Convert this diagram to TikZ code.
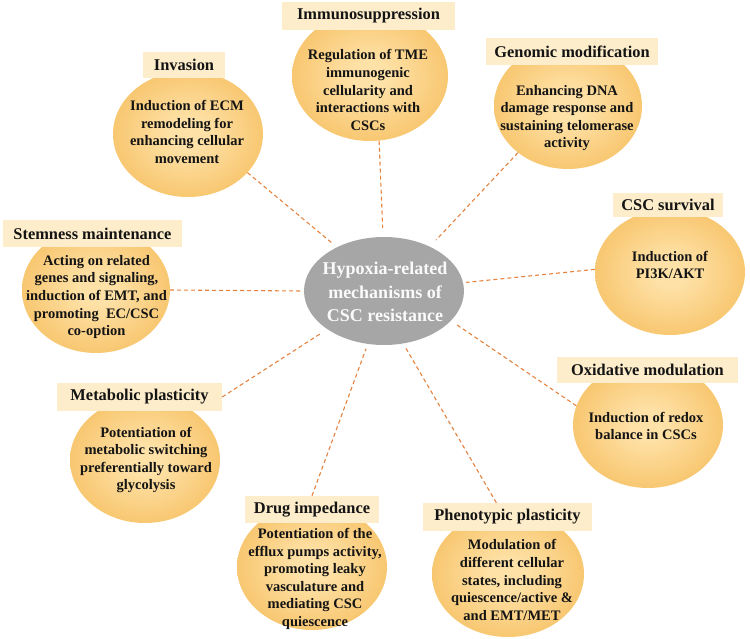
\documentclass[tikz,border=0pt]{standalone}
\usepackage{fontspec}
\setmainfont{Liberation Serif}
\usetikzlibrary{shapes.geometric}
\definecolor{orbin}{HTML}{FEE1A6}
\definecolor{orbout}{HTML}{F8C771}
\definecolor{labfill}{HTML}{FDEDCB}
\definecolor{connc}{HTML}{E5823F}
\definecolor{hubfill}{HTML}{A6A6A6}
\definecolor{txtc}{HTML}{141414}
\pgfdeclareradialshading{orb}{\pgfpoint{0bp}{0bp}}{color(0bp)=(orbin); color(6bp)=(orbin); color(25bp)=(orbout); color(50bp)=(orbout)}
\tikzset{
  orbnode/.style={ellipse, shading=orb, shade, draw=none, inner sep=0pt},
  labnode/.style={rectangle, fill=labfill, draw=none, inner sep=0pt,
    font=\fontsize{16.4}{20}\selectfont\bfseries, text=txtc},
  bodytxt/.style={align=center, inner sep=0pt, text=txtc,
    font=\fontsize{14.5}{17.6}\selectfont\bfseries},
  hubnode/.style={ellipse, fill=hubfill, draw=none, inner sep=0pt,
    minimum width=160pt, minimum height=108pt},
  hubtxt/.style={align=center, inner sep=0pt, text=white!96!gray,
    font=\fontsize{18}{23.4}\selectfont\bfseries},
  conn/.style={draw=connc, line width=1.1pt, dash pattern=on 4pt off 3pt}
}
\begin{document}
\begin{tikzpicture}[x=1pt,y=-1pt]
\useasboundingbox (0,0) rectangle (750,639);
% circles
\node[orbnode, minimum width=156pt, minimum height=130pt] (immC) at (370,76) {};
\node[orbnode, minimum width=148pt, minimum height=126pt] (genC) at (568,106) {};
\node[orbnode, minimum width=150pt, minimum height=126pt] (invC) at (188,134) {};
\node[orbnode, minimum width=148pt, minimum height=126pt] (stemC) at (96,290) {};
\node[orbnode, minimum width=150pt, minimum height=126pt] (cscC) at (670,272) {};
\node[orbnode, minimum width=150pt, minimum height=126pt] (oxC) at (648,425) {};
\node[orbnode, minimum width=150pt, minimum height=126pt] (metC) at (145,460) {};
\node[orbnode, minimum width=150pt, minimum height=126pt] (drugC) at (312,567) {};
\node[orbnode, minimum width=152pt, minimum height=126pt] (phenC) at (508,574) {};
% labels
\node[labnode, minimum width=173pt, minimum height=28pt] (immL) at (368.5,16) {Immunosuppression};
\node[labnode, minimum width=172pt, minimum height=27pt] (genL) at (572,51.5) {Genomic modification};
\node[labnode, minimum width=82pt, minimum height=26pt] (invL) at (184,65) {Invasion};
\node[labnode, minimum width=179pt, minimum height=27pt] (stemL) at (92.5,233.5) {Stemness maintenance};
\node[labnode, minimum width=110pt, minimum height=24pt] (cscL) at (668,205) {CSC survival};
\node[labnode, minimum width=181pt, minimum height=26pt] (oxL) at (647.5,370) {Oxidative modulation};
\node[labnode, minimum width=165pt, minimum height=28pt] (metL) at (139.5,397) {Metabolic plasticity};
\node[labnode, minimum width=134pt, minimum height=27pt] (drugL) at (312,509.5) {Drug impedance};
\node[labnode, minimum width=169pt, minimum height=28pt] (phenL) at (507.5,517) {Phenotypic plasticity};
% hub
\node[hubnode] (hub) at (384,291) {};
\node[hubtxt] (hubT) at (385,292) {Hypoxia-related\\mechanisms of\\CSC resistance};
% body texts
\node[bodytxt] (immT) at (368,90) {Regulation of TME\\immunogenic\\cellularity and\\interactions with\\CSCs};
\node[bodytxt] (genT) at (567,118) {Enhancing DNA\\damage response and\\sustaining telomerase\\activity};
\node[bodytxt] (invT) at (187,132) {Induction of ECM\\remodeling for\\enhancing cellular\\movement};
\node[bodytxt] (stemT) at (96.5,297) {Acting on related\\genes and signaling,\\induction of EMT, and\\promoting\ \ EC/CSC\\co-option};
\node[bodytxt] (cscT) at (670,265) {Induction of\\PI3K/AKT};
\node[bodytxt] (oxT) at (646,426) {Induction of redox\\balance in CSCs};
\node[bodytxt] (metT) at (146,460) {Potentiation of\\metabolic switching\\preferentially toward\\glycolysis};
\node[bodytxt] (drugT) at (315,579) {Potentiation of the\\efflux pumps activity,\\promoting leaky\\vasculature and\\mediating CSC\\quiescence};
\node[bodytxt] (phenT) at (512,580) {Modulation of\\different cellular\\states, including\\quiescence/active \&\\and EMT/MET};
% connectors
\draw[conn, shorten >=9pt] (immC.-82) -- (hub.91);
\draw[conn, shorten >=9pt] (genC.223) -- (hub.44);
\draw[conn, shorten >=7pt] (invC.-33.5) -- (hub.137);
\draw[conn, shorten >=3pt] (stemC.east) -- (hub.180);
\draw[conn, shorten >=3pt] (cscC.178) -- (hub.6);
\draw[conn, shorten >=6pt] (oxC.165) -- (hub.-24);
\draw[conn, shorten >=6pt] (metL.east) -- (hub.214);
\draw[conn, shorten >=5pt] (drugL.north) -- (hub.253);
\draw[conn, shorten >=5pt] (phenL.128) -- (hub.290);
\end{tikzpicture}
\end{document}
